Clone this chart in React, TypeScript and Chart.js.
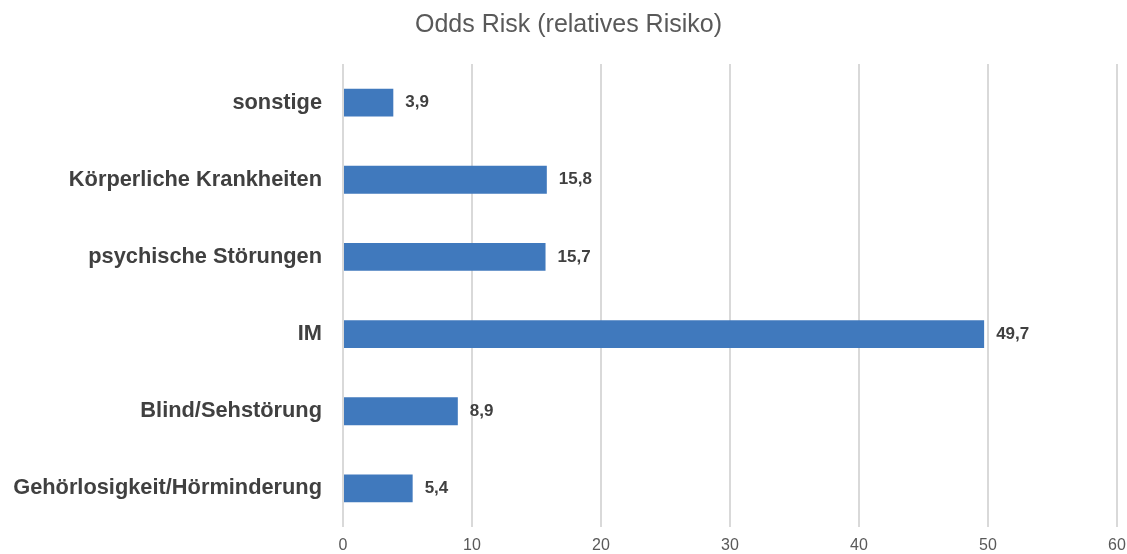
import React, { useEffect, useRef } from "react";
import { Chart, registerables } from "chart.js";

Chart.register(...registerables);

const titleText = "Odds Risk (relatives Risiko)";
const categories = [
  "sonstige",
  "Körperliche Krankheiten",
  "psychische Störungen",
  "IM",
  "Blind/Sehstörung",
  "Gehörlosigkeit/Hörminderung",
];
const values = [3.9, 15.8, 15.7, 49.7, 8.9, 5.4];
const xTicks = [0, 10, 20, 30, 40, 50, 60];

const FONT = "'Liberation Sans', Arial, sans-serif";

const valueLabels = {
  id: "valueLabels",
  afterDatasetsDraw(chart: any) {
    const ctx = chart.ctx;
    const meta = chart.getDatasetMeta(0);
    ctx.save();
    ctx.font = `bold 17px ${FONT}`;
    ctx.fillStyle = "#404040";
    ctx.textAlign = "left";
    ctx.textBaseline = "middle";
    meta.data.forEach((bar: any, i: number) => {
      const v = chart.data.datasets[0].data[i] as number;
      ctx.fillText(v.toFixed(1).replace(".", ","), bar.x + 12, bar.y);
    });
    ctx.restore();
  },
};

const chartTitle = {
  id: "chartTitle",
  afterDraw(chart: any) {
    const ctx = chart.ctx;
    ctx.save();
    ctx.font = `25px ${FONT}`;
    ctx.fillStyle = "#595959";
    ctx.textAlign = "center";
    ctx.textBaseline = "middle";
    ctx.fillText(titleText, chart.width / 2 + 5, 25);
    ctx.restore();
  },
};

export default function App() {
  const ref = useRef<HTMLCanvasElement>(null);
  useEffect(() => {
    if (!ref.current) return;
    const chart = new Chart(ref.current, {
      type: "bar",
      data: {
        labels: categories,
        datasets: [
          {
            data: values,
            backgroundColor: "#4079bd",
            categoryPercentage: 1,
            barPercentage: 0.36,
          },
        ],
      },
      options: {
        indexAxis: "y",
        animation: false,
        responsive: true,
        maintainAspectRatio: false,
        layout: { padding: { left: 0, right: 10, top: 64, bottom: 0 } },
        plugins: {
          legend: { display: false },
          tooltip: { enabled: false },
          title: { display: false },
        },
        scales: {
          x: {
            min: 0,
            max: 60,
            afterBuildTicks: (axis: any) => {
              axis.ticks = xTicks.map((v) => ({ value: v }));
            },
            grid: { color: "#d9d9d9", lineWidth: 2, drawTicks: false },
            border: { display: false },
            ticks: {
              color: "#595959",
              font: { family: FONT, size: 16 },
              padding: 9,
            },
            afterFit: (axis: any) => {
              axis.height = 27;
              axis.paddingLeft = 0;
              axis.paddingRight = 0;
            },
          },
          y: {
            grid: { display: false, drawTicks: false },
            border: { display: false },
            ticks: {
              color: "#404040",
              font: { family: FONT, size: 21.8, weight: "bold" },
              padding: 21,
            },
            afterFit: (axis: any) => {
              axis.width = 343;
              axis.paddingTop = 0;
              axis.paddingBottom = 0;
            },
          },
        },
      },
      plugins: [valueLabels, chartTitle],
    });
    return () => chart.destroy();
  }, []);
  return (
    <div style={{ position: "absolute", left: 0, top: 0, width: 1127, height: 554 }}>
      <canvas ref={ref} />
    </div>
  );
}
